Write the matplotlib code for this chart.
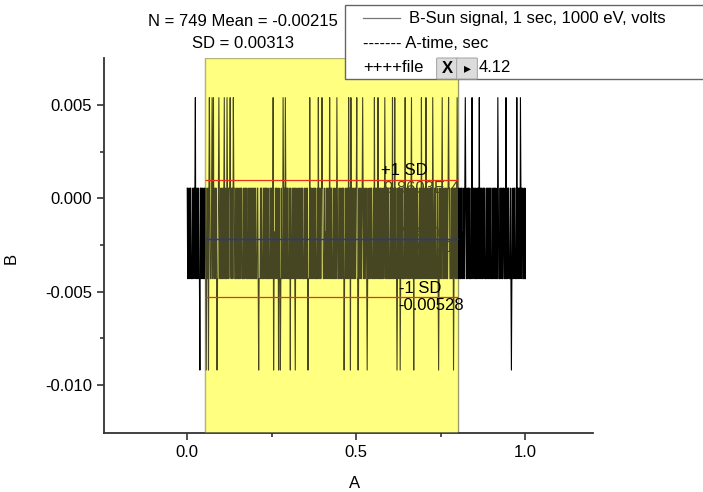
import matplotlib
matplotlib.use("Agg")
import matplotlib.pyplot as plt
from matplotlib.patches import Rectangle, FancyBboxPatch
import numpy as np

plt.rcParams['font.family'] = ['Liberation Sans', 'DejaVu Sans']

# --- data ---
n_points = 749
levels = {'h': 0.00055, 'l': -0.0043, 'm': -0.0018, 'U': 0.0054, 'D': -0.0092}

# band pattern (high / low / mid) read as a code string, left to right
band = (
    "hlhllhlhhlllhlhlhhllhllhlhlllhhlhlhllhlhhlllhlhlhlhlllhhlhlllhlhhlhllhlhllhlhl"
    "lhlhhllhlllhlhlhhlmlhlhllhhlllhlhlhllhlhlhhlllhlhllhhlhlllhlhlhllhhlhllhlhlllh"
    "hlhlllhlhhlllhlhlhhlhllhlllhhlhlhllhlmlhlhhllhlhllhlhlllhhlhllhlhlhhlllhlhlllh"
    "lhlhllhhlllhlhlhllhhlhlllhlhllhlhhlllhlhlhllhlhhllhlllhlhlhlhllhlhhlllhlmlhlhl"
    "hllhlhlhhlllhlhllhlhhlllhlhlhllhhlhlllhlhlhllhlhhlllhlhlhllhlhhlllhlhlhlhllhlh"
    "lhlllhhlhlhllhlhlhhlllhlhllhlhhlhlllhlhlhllhhlmlhlhllhlhhlllhlhlhllhlhlhhlllhl"
    "hlhllhhlhlllhlhlhhllhlhllhlhlllhhlhlhllhlhhlllhlhlhllhlhhlhlllhlhlhllhhlhlllhl"
    "lhlhhlllhlhlhllhlhhlllhlhlhlhllhlhhlllhlhlhllhhlhlllhlhlhllhlhhlmlhlhlhllhlhhl"
    "hlllhlhlhhllhlhllhlhhlllhlhlhllhhlhlllhlhlhllhlhhlllhlhlhlhllhlhhlllhlhlhllhhl"
    "lhlhllhlhhlllhlhlhllhlhhlllhlhlhlhllhlhhlllhlhlhllhhlhlllhlhlhllhlhhlllhlhlhlh"
)[:n_points]

up_spikes = [0.024, 0.066, 0.073, 0.078, 0.093, 0.109, 0.117, 0.127, 0.137, 0.254,
             0.283, 0.290, 0.362, 0.388, 0.399, 0.421, 0.443, 0.477, 0.484, 0.502,
             0.519, 0.554, 0.564, 0.584, 0.607, 0.613, 0.645, 0.663, 0.692, 0.706,
             0.726, 0.754, 0.773, 0.798, 0.822, 0.842, 0.864, 0.919, 0.943, 0.975,
             0.985]
down_spikes = [0.038, 0.056, 0.063, 0.088, 0.211, 0.255, 0.270, 0.275, 0.305, 0.320,
               0.357, 0.464, 0.482, 0.505, 0.532, 0.620, 0.630, 0.670, 0.743, 0.788,
               0.959]

mean_b = -0.00215
sd_b = 0.00313
roi = (0.053, 0.802)

codes = list(band)
for xs in up_spikes:
    codes[int(round(xs * (n_points - 1)))] = 'U'
for xs in down_spikes:
    codes[int(round(xs * (n_points - 1)))] = 'D'

t = np.linspace(0, 1, n_points)
b = np.array([levels[c] for c in codes])

# --- figure ---
W, H = 703.0, 492.0
fig = plt.figure(figsize=(7.03, 4.92), dpi=100)
ax = fig.add_axes([0.148, 0.12, 0.6956, 0.762])

ax.axvspan(roi[0], roi[1], facecolor='#ffff80', edgecolor='#9a9a70', lw=1.0, zorder=0)
ax.plot(t, b, color='black', lw=0.8, zorder=2)
# translucent yellow over the signal inside the region
ax.axvspan(roi[0], roi[1], facecolor='#ffff80', edgecolor='none', alpha=0.28, zorder=3)

ax.hlines([mean_b + sd_b, mean_b - sd_b], roi[0], roi[1], colors='#e8301c', lw=0.9, zorder=4)
ax.hlines(mean_b, roi[0], roi[1], colors='#2030d0', lw=1.0, zorder=4)

ax.text(0.573, 0.0015, '+1 SD', fontsize=12, va='center', zorder=5)
ax.text(0.580, 0.00055, '9.8603E-4', fontsize=12, va='center', zorder=1)
ax.text(0.625, -0.00177, 'Mean', fontsize=12, va='center', zorder=1)
ax.text(0.625, -0.00263, '-0.00215', fontsize=12, va='center', zorder=1)
ax.text(0.625, -0.00482, '-1 SD', fontsize=12, va='center', zorder=5)
ax.text(0.625, -0.00573, '-0.00528', fontsize=12, va='center', zorder=5)

ax.set_xlim(-0.246, 1.2)
ax.set_ylim(-0.01257, 0.00752)
ax.set_xticks([0.0, 0.5, 1.0])
ax.set_xticklabels(['0.0', '0.5', '1.0'])
ax.set_xticks([0.25, 0.75], minor=True)
ax.set_yticks([0.005, 0.0, -0.005, -0.010])
ax.set_yticklabels(['0.005', '0.000', '-0.005', '-0.010'])
ax.set_yticks([0.0025, -0.0025, -0.0075], minor=True)
ax.tick_params(which='major', length=5, width=1.2, labelsize=12, color='#333333')
ax.tick_params(which='minor', length=3, width=1.2, color='#333333')
for s in ['top', 'right']:
    ax.spines[s].set_visible(False)
for s in ['left', 'bottom']:
    ax.spines[s].set_linewidth(1.3)
    ax.spines[s].set_color('#333333')

# axis titles placed where the reference shows them
fig.text(355 / W, 1 - 483 / H, 'A', fontsize=12, ha='center', va='center')
fig.text(11 / W, 1 - 258 / H, 'B', fontsize=12, ha='center', va='center', rotation=90)

fig.text(0.3457, 0.9553, 'N = 749 Mean = -0.00215', fontsize=12, ha='center', va='center')
fig.text(0.3457, 0.9106, 'SD = 0.00313', fontsize=12, ha='center', va='center')

# legend box
fig.patches.append(Rectangle((345 / W, 1 - 79 / H), 360 / W, 74 / H, transform=fig.transFigure,
                             facecolor='white', edgecolor='#666666', lw=1.0, zorder=10))
fig.lines.append(plt.Line2D([363 / W, 400 / W], [1 - 18 / H, 1 - 18 / H], transform=fig.transFigure,
                            color='#777777', lw=0.9, zorder=11))
fig.text(409 / W, 1 - 18 / H, 'B-Sun signal, 1 sec, 1000 eV, volts', fontsize=12, va='center', zorder=11)
fig.text(363 / W, 1 - 43 / H, '------- A-time, sec', fontsize=12, va='center', zorder=11)
fig.text(363 / W, 1 - 68 / H, '++++file', fontsize=12, va='center', zorder=11)
fig.patches.append(FancyBboxPatch((438 / W, 1 - 78 / H), 19 / W, 19 / H, boxstyle='round,pad=0.002',
                                  transform=fig.transFigure, facecolor='#dcdcdc', edgecolor='#aaaaaa',
                                  lw=0.8, zorder=12))
fig.patches.append(FancyBboxPatch((458 / W, 1 - 78 / H), 18 / W, 19 / H, boxstyle='round,pad=0.002',
                                  transform=fig.transFigure, facecolor='#dcdcdc', edgecolor='#aaaaaa',
                                  lw=0.8, zorder=12))
fig.text(447.5 / W, 1 - 68.5 / H, 'X', fontsize=12, fontweight='bold', ha='center', va='center', zorder=13)
fig.text(467 / W, 1 - 68.5 / H, '\u25b8', fontsize=10, ha='center', va='center', zorder=13)
fig.text(479 / W, 1 - 68 / H, '4.12', fontsize=12, va='center', zorder=11)

fig.savefig('out.png', dpi=100)
